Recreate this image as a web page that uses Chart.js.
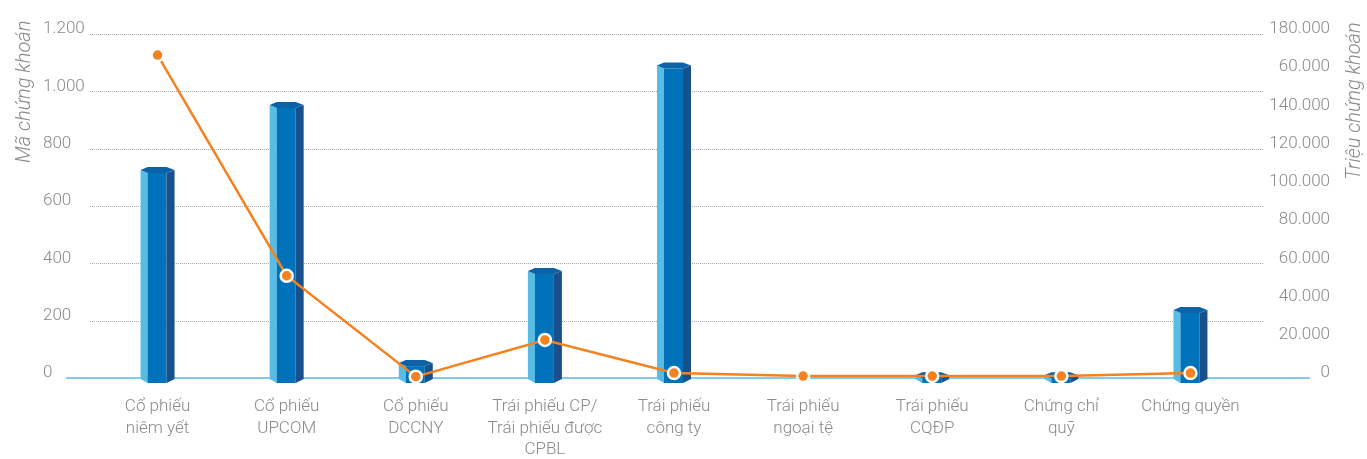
<!DOCTYPE html>
<html>
<head>
<meta charset="utf-8">
<script src="https://cdn.jsdelivr.net/npm/chart.js@4"></script>
<style>
  html, body { margin: 0; padding: 0; background: #fff; }
  #wrap { width: 1367px; height: 459px; }
</style>
</head>
<body>
<div id="wrap"><canvas id="chart"></canvas></div>
<script>
const categories = [
  ['Cổ phiếu', 'niêm yết'],
  ['Cổ phiếu', 'UPCOM'],
  ['Cổ phiếu', 'DCCNY'],
  ['Trái phiếu CP/', 'Trái phiếu được', 'CPBL'],
  ['Trái phiếu', 'công ty'],
  ['Trái phiếu', 'ngoại tệ'],
  ['Trái phiếu', 'CQĐP'],
  ['Chứng chỉ', 'quỹ'],
  ['Chứng quyền']
]
const maChungKhoan = [726, 952, 52, 373, 1090, 0, 10, 10, 237]
const trieuChungKhoan = [169000, 53500, 700, 19900, 2600, 1000, 1000, 1000, 2600]
const leftTicks = ['0', '200', '400', '600', '800', '1.000', '1.200']
const rightTicks = ['0', '20.000', '40.000', '60.000', '80.000', '100.000', '120.000', '140.000', '60.000', '180.000']
const leftTitle = 'Mã chứng khoán'
const rightTitle = 'Triệu chứng khoán'

const gray = '#8a8a8a'
const orange = '#f58220'

const decor = {
  id: 'decor',
  beforeDatasetsDraw(chart) {
    const ctx = chart.ctx, y = chart.scales.y
    ctx.save()
    ctx.strokeStyle = '#a9a9a9'
    ctx.lineWidth = 1
    ctx.setLineDash([1, 1])
    y.ticks.forEach(t => {
      if (t.value === 0) return
      const py = Math.round(y.getPixelForValue(t.value)) + 0.5
      ctx.beginPath()
      ctx.moveTo(90, py)
      ctx.lineTo(1263, py)
      ctx.stroke()
    })
    ctx.setLineDash([])
    const y0 = y.getPixelForValue(0)
    ctx.strokeStyle = '#7fcdec'
    ctx.lineWidth = 2
    ctx.beginPath()
    ctx.moveTo(66, y0)
    ctx.lineTo(1310, y0)
    ctx.stroke()
    ctx.restore()
  },
  afterDatasetDraw(chart, args) {
    if (args.meta.type !== 'bar') return
    const ctx = chart.ctx
    const vals = chart.data.datasets[args.index].data
    args.meta.data.forEach((el, i) => {
      if (!vals[i]) return
      const { x, y: top, base } = el.getProps(['x', 'y', 'base'], true)
      const xL = x - 17, xA = x - 10, xB = x + 9, xR = x + 17, h = 3
      const poly = (pts, c) => {
        ctx.beginPath()
        ctx.moveTo(pts[0][0], pts[0][1])
        pts.slice(1).forEach(p => ctx.lineTo(p[0], p[1]))
        ctx.closePath()
        ctx.fillStyle = c
        ctx.fill()
      }
      ctx.save()
      poly([[xL, top], [xA, top + h], [xA, base + 5], [xL, base + 1]], '#57bde5')
      poly([[xA, top + h], [xB, top + h], [xB, base + 5], [xA, base + 5]], '#0072b9')
      poly([[xB, top + h], [xR, top], [xR, base + 1], [xB, base + 5]], '#17508c')
      poly([[xL, top], [xA, top - h], [xB, top - h], [xR, top], [xB, top + h], [xA, top + h]], '#0b62a6')
      ctx.restore()
    })
  },
  afterDraw(chart) {
    const ctx = chart.ctx
    const title = (text, x, y) => {
      ctx.save()
      ctx.fillStyle = gray
      ctx.font = 'italic 300 20px Roboto'
      ctx.textAlign = 'left'
      ctx.textBaseline = 'middle'
      ctx.translate(x, y)
      ctx.rotate(-Math.PI / 2)
      ctx.fillText(text, 0, 0)
      ctx.restore()
    }
    title(leftTitle, 25, 163)
    title(rightTitle, 1355, 180)
  }
}

const tickFont = { family: 'Roboto', size: 17, weight: '300' }

new Chart(document.getElementById('chart').getContext('2d'), {
  type: 'bar',
  data: {
    labels: categories,
    datasets: [
      {
        type: 'line',
        label: 'Triệu chứng khoán',
        data: trieuChungKhoan,
        yAxisID: 'y1',
        borderColor: orange,
        borderWidth: 2.5,
        backgroundColor: orange,
        pointBackgroundColor: orange,
        pointBorderColor: '#fff',
        pointBorderWidth: 2.5,
        pointRadius: 6,
        tension: 0,
        clip: false,
        order: 0
      },
      {
        type: 'bar',
        label: 'Mã chứng khoán',
        data: maChungKhoan,
        yAxisID: 'y',
        backgroundColor: 'rgba(0,0,0,0)',
        barThickness: 34,
        order: 1
      }
    ]
  },
  options: {
    responsive: true,
    maintainAspectRatio: false,
    animation: false,
    layout: { padding: { top: 34, left: 43, right: 37, bottom: 0 } },
    plugins: { legend: { display: false }, tooltip: { enabled: false } },
    scales: {
      x: {
        grid: { display: false, drawTicks: false },
        border: { display: false },
        ticks: { color: gray, font: { ...tickFont, lineHeight: 1.27 }, padding: 18, maxRotation: 0, autoSkip: false },
        afterFit: s => { s.height = 81 }
      },
      y: {
        position: 'left',
        min: 0, max: 1200,
        grid: { display: false, drawTicks: false },
        border: { display: false },
        ticks: { stepSize: 200, color: gray, font: tickFont, crossAlign: 'far', labelOffset: -5, padding: 0,
          callback: (v, i) => leftTicks[i] },
        afterFit: s => { s.width = 50 }
      },
      y1: {
        position: 'right',
        min: 0, max: 180000,
        grid: { display: false, drawTicks: false },
        border: { display: false },
        ticks: { stepSize: 20000, color: gray, font: tickFont, crossAlign: 'far', labelOffset: -5, padding: 0,
          callback: (v, i) => rightTicks[i] },
        afterFit: s => { s.width = 75 }
      }
    }
  },
  plugins: [decor]
})
</script>
</body>
</html>
